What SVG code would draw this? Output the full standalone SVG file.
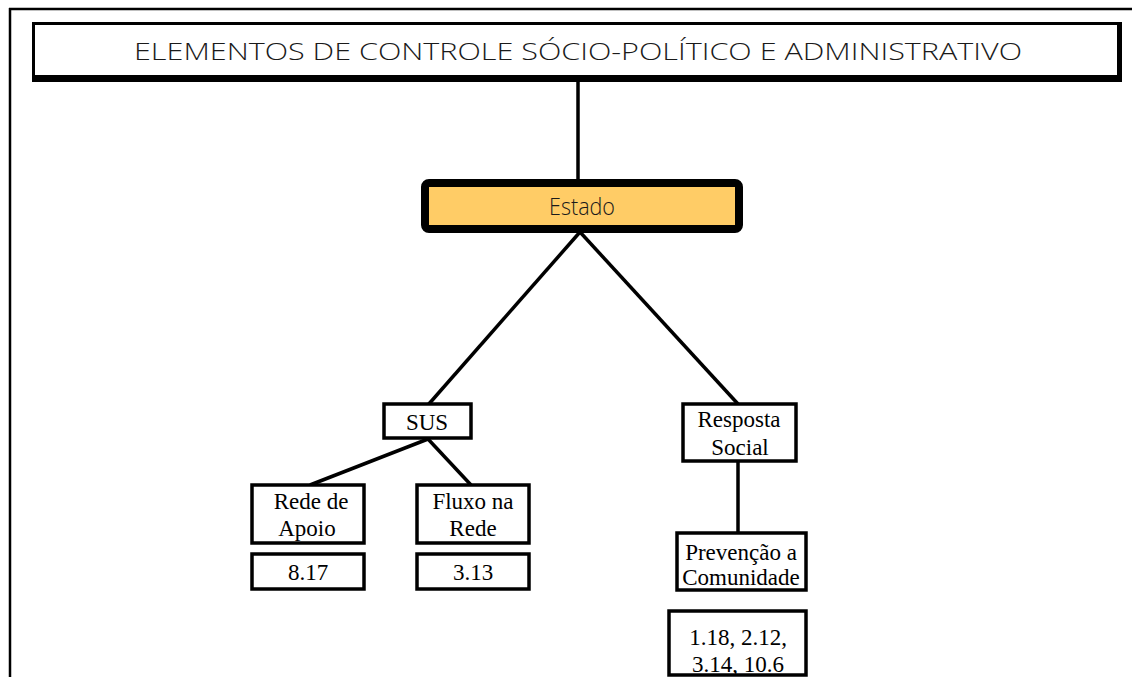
<svg xmlns="http://www.w3.org/2000/svg" width="1132" height="677" viewBox="0 0 1132 677">
<style>
.box{fill:#fff;stroke:#000;stroke-width:3.5;}
.t{font-family:"Liberation Serif","Times New Roman",serif;font-size:23px;fill:#000;text-anchor:middle;}
.s{font-family:"Open Sans","Lato","Liberation Sans",sans-serif;font-weight:300;fill:#1a1a1a;text-anchor:middle;}
.c{stroke:#000;stroke-width:3.5;fill:none;}
</style>
<rect width="1132" height="677" fill="#fff"/>
<g id="frame">
<line x1="9" y1="9" x2="1132" y2="9" stroke="#000" stroke-width="2.5"/>
<line x1="10" y1="8" x2="10" y2="677" stroke="#000" stroke-width="2.5"/>
</g>
<g id="connectors">
<line class="c" x1="578" y1="82" x2="578" y2="182"/>
<line class="c" x1="580" y1="232" x2="428" y2="405"/>
<line class="c" x1="580" y1="232" x2="738" y2="404"/>
<line class="c" x1="428" y1="439" x2="310" y2="485"/>
<line class="c" x1="428" y1="439" x2="471" y2="485"/>
<line class="c" x1="738" y1="461" x2="738" y2="532"/>
</g>
<g id="title">
<rect x="32" y="22" width="1090" height="60" fill="#000"/>
<rect x="35" y="25" width="1082" height="50" fill="#fff"/>
<text class="s" x="578" y="60" font-size="24.5" textLength="888" lengthAdjust="spacingAndGlyphs">ELEMENTOS DE CONTROLE SÓCIO-POLÍTICO E ADMINISTRATIVO</text>
</g>
<g id="estado">
<rect x="425" y="183" width="314" height="46" rx="4" fill="#FFCC66" stroke="#000" stroke-width="8"/>
<text class="s" x="582" y="215" font-size="23" textLength="66" lengthAdjust="spacingAndGlyphs">Estado</text>
</g>
<g id="sus">
<rect class="box" x="384" y="404" width="87" height="34"/>
<text class="t" x="427" y="430">SUS</text>
</g>
<g id="rede-apoio">
<rect class="box" x="252" y="485" width="112" height="58"/>
<text class="t" x="311" y="509">Rede de</text>
<text class="t" x="307" y="536">Apoio</text>
</g>
<g id="n817">
<rect class="box" x="252" y="554" width="112" height="35"/>
<text class="t" x="308" y="580">8.17</text>
</g>
<g id="fluxo-rede">
<rect class="box" x="417" y="485" width="112" height="58"/>
<text class="t" x="473" y="509">Fluxo na</text>
<text class="t" x="473" y="536">Rede</text>
</g>
<g id="n313">
<rect class="box" x="417" y="554" width="112" height="35"/>
<text class="t" x="473" y="580">3.13</text>
</g>
<g id="resposta-social">
<rect class="box" x="683" y="404" width="113" height="57"/>
<text class="t" x="739" y="427">Resposta</text>
<text class="t" x="740" y="455">Social</text>
</g>
<g id="prevencao">
<rect class="box" x="677" y="533" width="129" height="57"/>
<text class="t" x="741" y="560" font-size="22">Prevenção a</text>
<text class="t" x="741" y="585" font-size="22">Comunidade</text>
</g>
<g id="numeros">
<rect class="box" x="669" y="611" width="137" height="64"/>
<text class="t" x="738" y="645">1.18, 2.12,</text>
<text class="t" x="738" y="672">3.14, 10.6</text>
</g>
</svg>
